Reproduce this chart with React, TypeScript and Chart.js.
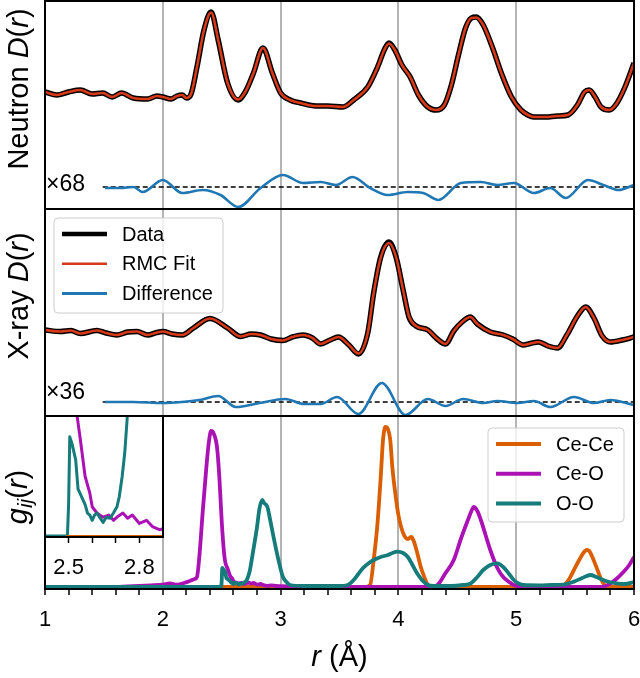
import React, { useEffect, useRef } from 'react';
import { Chart, registerables } from 'chart.js';
Chart.register(...registerables);

const FONT = "'Liberation Sans', Arial, Helvetica, sans-serif";
Chart.defaults.font.family = FONT;

// ---------- Neutron D(r) ----------
const nR = [1.00,1.10,1.20,1.30,1.40,1.49,1.57,1.65,1.75,1.87,1.95,2.00,2.07,2.12,2.165,2.20,2.24,2.29,2.35,2.41,2.47,2.55,2.64,2.70,2.77,2.85,2.93,3.00,3.08,3.17,3.30,3.40,3.53,3.62,3.74,3.82,3.88,3.92,3.97,4.03,4.10,4.17,4.25,4.32,4.39,4.45,4.51,4.57,4.62,4.66,4.72,4.80,4.88,4.96,5.04,5.10,5.15,5.25,5.35,5.44,5.52,5.58,5.62,5.67,5.72,5.79,5.85,5.92,6.00];
const nData = [0.16,0.10,0.16,0.20,0.12,0.14,0.06,0.14,0.04,0.02,0.08,0.06,0.02,0.08,0.10,0.04,0.12,0.66,1.40,1.76,1.20,0.34,0.00,0.16,0.54,1.04,0.54,0.14,0.00,-0.06,-0.12,-0.12,-0.14,0.00,0.26,0.64,1.00,1.14,1.00,0.70,0.46,0.10,-0.14,-0.20,-0.10,0.30,0.90,1.44,1.64,1.66,1.50,1.04,0.50,0.06,-0.20,-0.30,-0.34,-0.34,-0.32,-0.30,-0.10,0.16,0.20,0.06,-0.14,-0.20,-0.08,0.24,0.74];
const nFit = [0.16,0.10,0.16,0.20,0.12,0.14,0.06,0.14,0.04,0.02,0.08,0.06,0.02,0.08,0.10,0.04,0.12,0.66,1.40,1.75,1.20,0.34,0.01,0.16,0.54,1.04,0.54,0.14,0.00,-0.06,-0.12,-0.12,-0.14,0.00,0.26,0.64,1.00,1.13,1.00,0.70,0.46,0.10,-0.14,-0.20,-0.10,0.30,0.90,1.44,1.64,1.65,1.50,1.04,0.50,0.06,-0.20,-0.30,-0.34,-0.34,-0.32,-0.30,-0.10,0.16,0.20,0.06,-0.14,-0.20,-0.08,0.24,0.74];
const nDiffR = [1.51,1.64,1.75,1.83,2.00,2.165,2.34,2.49,2.64,2.83,3.02,3.19,3.34,3.47,3.61,3.76,3.91,4.08,4.21,4.34,4.53,4.70,4.84,4.98,5.15,5.29,5.42,5.61,5.74,5.87,6.00];
const nDiff = [-0.02,-0.02,0.00,-0.10,0.14,-0.12,-0.06,-0.16,-0.40,-0.02,0.24,0.08,0.10,0.04,0.20,-0.02,-0.16,-0.10,-0.12,-0.26,0.08,0.10,0.04,0.08,-0.12,-0.02,-0.22,0.14,0.04,-0.06,0.04];
const nDiffScale = 68;
const nDiffOffset = -1.74;

// ---------- X-ray D(r) ----------
const xR = [1.00,1.13,1.22,1.30,1.44,1.52,1.61,1.70,1.78,1.87,1.95,2.00,2.08,2.165,2.26,2.40,2.55,2.66,2.75,2.83,2.92,3.02,3.10,3.19,3.27,3.34,3.42,3.49,3.58,3.66,3.74,3.79,3.85,3.92,3.98,4.04,4.09,4.15,4.25,4.33,4.40,4.47,4.54,4.61,4.67,4.78,4.89,4.97,5.06,5.12,5.19,5.27,5.35,5.43,5.52,5.59,5.66,5.73,5.80,5.90,6.00];
const xData = [0.00,-0.03,-0.01,-0.07,-0.01,-0.06,-0.10,-0.04,-0.03,-0.10,-0.05,-0.03,-0.08,-0.10,0.04,0.23,0.04,-0.13,-0.08,-0.10,-0.18,-0.21,-0.14,-0.10,-0.16,-0.28,-0.20,-0.14,-0.30,-0.48,-0.06,0.74,1.46,1.76,1.46,0.80,0.26,0.08,0.00,-0.18,-0.28,-0.02,0.16,0.26,0.12,-0.04,-0.10,-0.18,-0.30,-0.27,-0.24,-0.32,-0.36,-0.10,0.28,0.46,0.24,-0.12,-0.24,-0.20,-0.14];
const xFit = [0.00,-0.03,-0.01,-0.07,-0.01,-0.06,-0.10,-0.04,-0.03,-0.10,-0.05,-0.03,-0.08,-0.10,0.04,0.23,0.04,-0.13,-0.08,-0.10,-0.18,-0.21,-0.14,-0.10,-0.16,-0.28,-0.20,-0.14,-0.30,-0.47,-0.06,0.74,1.45,1.74,1.46,0.80,0.27,0.08,0.00,-0.18,-0.28,-0.02,0.16,0.26,0.12,-0.04,-0.10,-0.18,-0.30,-0.27,-0.24,-0.32,-0.36,-0.10,0.28,0.46,0.24,-0.12,-0.24,-0.20,-0.14];
const xDiffR = [1.51,1.75,2.00,2.16,2.31,2.47,2.62,2.82,3.04,3.20,3.34,3.48,3.66,3.86,4.06,4.25,4.40,4.55,4.72,4.84,5.01,5.15,5.29,5.49,5.66,5.80,6.00];
const xDiff = [0.00,0.00,-0.02,0.00,0.04,0.12,-0.10,-0.02,0.06,-0.04,-0.04,0.10,-0.24,0.38,-0.26,0.06,-0.08,0.06,-0.02,0.02,-0.02,0.02,-0.10,0.10,-0.02,0.04,-0.06];
const xDiffScale = 36;
const xDiffOffset = -1.44;

// ---------- partial g_ij(r) ----------
const ceceR = [2.49,3.72,3.76,3.79,3.82,3.85,3.87,3.89,3.91,3.93,3.95,3.98,4.00,4.04,4.08,4.11,4.13,4.16,4.19,4.22,4.25,4.28,5.38,5.41,5.45,5.49,5.53,5.57,5.60,5.62,5.65,5.69,5.72,5.75,5.78,6.00];
const ceceG = [0,0,0.1,1.35,3.0,5.5,7.4,8.0,7.9,7.4,5.9,4.4,3.6,2.7,2.4,2.5,2.3,1.7,1.0,0.5,0.1,0,0,0.1,0.4,0.85,1.3,1.7,1.85,1.8,1.45,0.85,0.4,0.1,0,0];
const ceoR = [1.00,1.60,1.70,1.80,1.90,2.00,2.06,2.12,2.18,2.23,2.27,2.29,2.31,2.34,2.37,2.39,2.41,2.43,2.46,2.48,2.50,2.52,2.53,2.55,2.57,2.59,2.60,2.62,2.646,2.67,2.69,2.71,2.73,2.75,2.77,2.80,2.83,2.855,2.885,2.92,2.96,3.00,3.10,3.20,4.25,4.33,4.40,4.47,4.53,4.59,4.62,4.64,4.67,4.70,4.74,4.78,4.84,4.89,4.94,4.98,5.05,5.72,5.80,5.85,5.91,5.96,6.00];
const ceoG = [0,0,0.03,0.05,0.08,0.12,0.18,0.12,0.2,0.3,0.4,0.5,1.5,3.85,6.0,7.2,7.8,7.7,7.0,5.5,3.3,1.7,1.25,0.92,0.57,0.41,0.28,0.22,0.18,0.2,0.15,0.19,0.22,0.17,0.2,0.12,0.15,0.09,0.06,0.08,0.05,0.04,0.02,0,0,0.1,0.7,1.35,2.4,3.35,3.8,4.0,3.8,3.35,2.6,1.85,0.95,0.5,0.25,0.1,0,0,0.18,0.4,0.75,1.1,1.5];
const ooR = [1.00,2.495,2.50,2.505,2.515,2.53,2.54,2.55,2.56,2.57,2.58,2.59,2.60,2.61,2.62,2.634,2.646,2.66,2.676,2.69,2.705,2.715,2.727,2.738,2.748,2.77,2.80,2.82,2.845,2.86,2.888,2.91,2.94,2.98,3.02,3.05,3.08,3.20,3.40,3.50,3.57,3.62,3.66,3.70,3.75,3.79,3.85,3.91,3.95,3.99,4.04,4.08,4.12,4.16,4.20,4.25,4.30,4.45,4.55,4.61,4.67,4.72,4.78,4.84,4.89,4.94,4.98,5.02,5.06,5.20,5.30,5.40,5.49,5.56,5.63,5.68,5.74,5.79,5.85,5.92,6.00];
const ooG = [0,0,0.3,0.95,0.88,0.73,0.45,0.40,0.35,0.30,0.22,0.20,0.15,0.20,0.22,0.17,0.13,0.18,0.17,0.22,0.28,0.38,0.57,0.80,1.12,1.9,3.0,3.9,4.35,4.2,4.0,3.4,2.5,1.4,0.5,0.25,0.1,0.05,0.05,0.05,0.1,0.35,0.65,0.95,1.2,1.35,1.5,1.6,1.7,1.77,1.7,1.5,1.1,0.67,0.35,0.1,0.05,0.05,0.1,0.17,0.5,0.85,1.1,1.18,1.0,0.65,0.35,0.18,0.1,0.08,0.1,0.12,0.27,0.45,0.6,0.5,0.35,0.25,0.18,0.15,0.25];

// ---------- ticks & legends ----------
const mainTickLabels = [1, 2, 3, 4, 5, 6];
const mainGridLines = [2, 3, 4, 5];
const insetTickLabels = [2.5, 2.8];
const dLegend = ['Data', 'RMC Fit', 'Difference'];
const gLegend = ['Ce-Ce', 'Ce-O', 'O-O'];

const RED = '#d63a1a';
const BLUE = '#1f77b4';
const ORANGE = '#d95f02';
const MAGENTA = '#aa12b4';
const TEAL = '#157b7b';
const GRID = '#b4b4b4';

const near = (v: number, arr: number[]) => arr.some((a) => Math.abs(a - v) < 1e-6);
const toXY = (rs: number[], vs: number[], off = 0) => rs.map((r, i) => ({ x: r, y: vs[i] + off }));

type Seg = { t: string; it?: boolean; size?: number; dy?: number };
function drawRich(ctx: any, segs: Seg[], cx: number, cy: number, size: number, rotate: boolean) {
  ctx.save();
  ctx.translate(cx, cy);
  if (rotate) ctx.rotate(-Math.PI / 2);
  ctx.textBaseline = 'middle';
  ctx.textAlign = 'left';
  ctx.fillStyle = '#000';
  const fontOf = (s: Seg) => `${s.it ? 'italic ' : ''}${s.size ?? size}px ${FONT}`;
  let total = 0;
  const widths = segs.map((s) => {
    ctx.font = fontOf(s);
    const w = ctx.measureText(s.t).width;
    total += w;
    return w;
  });
  let x = -total / 2;
  segs.forEach((s, i) => {
    ctx.font = fontOf(s);
    ctx.fillText(s.t, x, s.dy ?? 0);
    x += widths[i];
  });
  ctx.restore();
}

function roundRect(ctx: any, x: number, y: number, w: number, h: number, r: number) {
  ctx.beginPath();
  ctx.moveTo(x + r, y);
  ctx.lineTo(x + w - r, y);
  ctx.quadraticCurveTo(x + w, y, x + w, y + r);
  ctx.lineTo(x + w, y + h - r);
  ctx.quadraticCurveTo(x + w, y + h, x + w - r, y + h);
  ctx.lineTo(x + r, y + h);
  ctx.quadraticCurveTo(x, y + h, x, y + h - r);
  ctx.lineTo(x, y + r);
  ctx.quadraticCurveTo(x, y, x + r, y);
  ctx.closePath();
}

function drawLegend(ctx: any, x: number, y: number, w: number, h: number, labels: string[], colors: string[], widths: number[]) {
  ctx.save();
  roundRect(ctx, x, y, w, h, 4);
  ctx.fillStyle = 'rgba(255,255,255,0.8)';
  ctx.fill();
  ctx.strokeStyle = '#cccccc';
  ctx.lineWidth = 1;
  ctx.stroke();
  labels.forEach((lab, i) => {
    const cy = y + 16 + i * 29.7;
    ctx.beginPath();
    ctx.moveTo(x + 8, cy);
    ctx.lineTo(x + 53, cy);
    ctx.strokeStyle = colors[i];
    ctx.lineWidth = widths[i];
    ctx.stroke();
    ctx.fillStyle = '#000';
    ctx.font = `20px ${FONT}`;
    ctx.textBaseline = 'middle';
    ctx.textAlign = 'left';
    ctx.fillText(lab, x + 68, cy + 1);
  });
  ctx.restore();
}

const mainPlugin = {
  id: 'mainDecor',
  afterDatasetsDraw(chart: any) {
    const { ctx, chartArea } = chart;
    const { left, right } = chartArea;
    const yN = chart.scales.yN, yX = chart.scales.yX, yG = chart.scales.yG;
    ctx.save();
    ctx.strokeStyle = '#000';
    ctx.lineWidth = 2;
    [yN, yX, yG].forEach((s: any) => ctx.strokeRect(left, s.top, right - left, s.bottom - s.top));
    ctx.restore();

    // scale factor labels
    ctx.save();
    ctx.fillStyle = '#000';
    ctx.font = `23px ${FONT}`;
    ctx.textBaseline = 'alphabetic';
    ctx.textAlign = 'left';
    ctx.fillText('\u00d7' + nDiffScale, left + 1, yN.getPixelForValue(nDiffOffset) + 4);
    ctx.fillText('\u00d7' + xDiffScale, left + 1, yX.getPixelForValue(xDiffOffset) - 3);
    ctx.restore();

    drawLegend(ctx, left + 9, yX.top + 9, 169, 95, dLegend, ['#000', RED, BLUE], [4.5, 2.5, 3]);
    drawLegend(ctx, right - 146, yG.top + 12, 136, 94, gLegend, [ORANGE, MAGENTA, TEAL], [4, 4, 4]);

    // axis titles
    drawRich(ctx, [{ t: 'Neutron ' }, { t: 'D', it: true }, { t: '(' }, { t: 'r', it: true }, { t: ')' }], 20, 89, 29, true);
    drawRich(ctx, [{ t: 'X-ray ' }, { t: 'D', it: true }, { t: '(' }, { t: 'r', it: true }, { t: ')' }], 20, 296, 29, true);
    drawRich(ctx, [{ t: 'g', it: true }, { t: 'ij', it: true, size: 21, dy: 7 }, { t: '(' }, { t: 'r', it: true }, { t: ')' }], 19, 497, 29, true);
    drawRich(ctx, [{ t: 'r', it: true }, { t: ' (\u00c5)' }], (left + right) / 2, 658, 29, false);
  },
};

const insetPlugin = {
  id: 'insetDecor',
  beforeDraw(chart: any) {
    const { ctx, chartArea: a } = chart;
    ctx.save();
    ctx.fillStyle = '#fff';
    ctx.fillRect(a.left, a.top, a.right - a.left, a.bottom - a.top);
    ctx.restore();
  },
  afterDatasetsDraw(chart: any) {
    const { ctx, chartArea: a } = chart;
    ctx.save();
    ctx.strokeStyle = '#000';
    ctx.lineWidth = 2;
    ctx.strokeRect(a.left, a.top, a.right - a.left, a.bottom - a.top);
    ctx.restore();
  },
};

const line = (extra: any) => ({
  pointRadius: 0,
  fill: false,
  cubicInterpolationMode: 'monotone',
  borderJoinStyle: 'round',
  ...extra,
});

export default function App() {
  const mainRef = useRef<HTMLCanvasElement>(null);
  const insetRef = useRef<HTMLCanvasElement>(null);

  useEffect(() => {
    document.body.style.margin = '0';
    const yBase = (extra: any) => ({
      type: 'linear',
      position: 'left',
      stack: 'panels',
      ticks: { display: false },
      grid: { display: false },
      border: { display: false },
      afterFit: (s: any) => {
        s.width = 45;
        s.paddingTop = 0;
        s.paddingBottom = 0;
      },
      ...extra,
    });

    const main = new Chart(mainRef.current as HTMLCanvasElement, {
      type: 'line',
      data: {
        datasets: [
          line({ label: 'Neutron RMC Fit', data: toXY(nR, nFit), yAxisID: 'yN', borderColor: RED, borderWidth: 2.6, order: 1 }),
          line({ label: 'Neutron Data', data: toXY(nR, nData), yAxisID: 'yN', borderColor: '#000', borderWidth: 5.5, order: 2 }),
          line({ label: 'Neutron Difference', data: toXY(nDiffR, nDiff, nDiffOffset), yAxisID: 'yN', borderColor: BLUE, borderWidth: 2.6, order: 1 }),
          line({ label: 'Neutron zero', data: [{ x: nDiffR[0] - 0.02, y: nDiffOffset }, { x: 6, y: nDiffOffset }], yAxisID: 'yN', borderColor: '#000', borderWidth: 1.3, borderDash: [5, 3], order: 5 }),
          line({ label: 'X-ray RMC Fit', data: toXY(xR, xFit), yAxisID: 'yX', borderColor: RED, borderWidth: 2.6, order: 1 }),
          line({ label: 'X-ray Data', data: toXY(xR, xData), yAxisID: 'yX', borderColor: '#000', borderWidth: 5.5, order: 2 }),
          line({ label: 'X-ray Difference', data: toXY(xDiffR, xDiff, xDiffOffset), yAxisID: 'yX', borderColor: BLUE, borderWidth: 2.6, order: 1 }),
          line({ label: 'X-ray zero', data: [{ x: xDiffR[0] - 0.02, y: xDiffOffset }, { x: 6, y: xDiffOffset }], yAxisID: 'yX', borderColor: '#000', borderWidth: 1.3, borderDash: [5, 3], order: 5 }),
          line({ label: 'O-O', data: toXY(ooR, ooG), yAxisID: 'yG', borderColor: TEAL, borderWidth: 3.8, order: 1 }),
          line({ label: 'Ce-O', data: toXY(ceoR, ceoG), yAxisID: 'yG', borderColor: MAGENTA, borderWidth: 3.8, order: 2 }),
          line({ label: 'Ce-Ce', data: toXY(ceceR, ceceG), yAxisID: 'yG', borderColor: ORANGE, borderWidth: 3.8, order: 3 }),
        ],
      },
      options: {
        responsive: false,
        animation: false,
        devicePixelRatio: 1,
        events: [],
        layout: { padding: { left: 0, top: 1, right: 6, bottom: 0 } },
        plugins: { legend: { display: false }, tooltip: { enabled: false } },
        scales: {
          x: {
            type: 'linear',
            position: 'bottom',
            min: 1,
            max: 6,
            ticks: {
              stepSize: 0.2,
              autoSkip: false,
              maxRotation: 0,
              color: '#000',
              padding: 12,
              font: { family: FONT, size: 22 },
              callback: (v: any) => (near(Number(v), mainTickLabels) ? String(Math.round(Number(v))) : ''),
            },
            grid: {
              color: (c: any) => (c.tick && near(c.tick.value, mainGridLines) ? GRID : 'rgba(0,0,0,0)'),
              lineWidth: 2,
              tickColor: '#000',
              tickLength: 6,
              tickWidth: 1.5,
            },
            border: { color: '#000', width: 2 },
            afterFit: (s: any) => {
              s.height = 89;
              s.paddingLeft = 0;
              s.paddingRight = 0;
            },
          },
          // stacked panels are laid out bottom-up in declaration order
          yG: yBase({ stackWeight: 173, min: -0.1, max: 8.55 }),
          yX: yBase({ stackWeight: 207, min: -1.72, max: 2.42 }),
          yN: yBase({ stackWeight: 208, min: -2.18, max: 1.98 }),
        } as any,
      },
      plugins: [mainPlugin],
    } as any);

    const inset = new Chart(insetRef.current as HTMLCanvasElement, {
      type: 'line',
      data: {
        datasets: [
          line({ label: 'O-O', data: toXY(ooR, ooG), borderColor: TEAL, borderWidth: 3, cubicInterpolationMode: 'default', tension: 0, clip: 0, order: 2 }),
          line({ label: 'Ce-O', data: toXY(ceoR, ceoG), borderColor: MAGENTA, borderWidth: 3, cubicInterpolationMode: 'default', tension: 0, clip: 0, order: 3 }),
          line({ label: 'Ce-Ce', data: toXY(ceceR, ceceG), borderColor: ORANGE, borderWidth: 2, cubicInterpolationMode: 'default', tension: 0, clip: 0, order: 1 }),
        ],
      },
      options: {
        responsive: false,
        animation: false,
        devicePixelRatio: 1,
        events: [],
        layout: { padding: { left: 15, top: 6, right: 17, bottom: 0 } },
        plugins: { legend: { display: false }, tooltip: { enabled: false } },
        scales: {
          x: {
            type: 'linear',
            min: 2.4,
            max: 2.9,
            ticks: {
              stepSize: 0.1,
              autoSkip: false,
              maxRotation: 0,
              color: '#000',
              padding: 12,
              font: { family: FONT, size: 22 },
              callback: (v: any) => (near(Number(v), insetTickLabels) ? Number(v).toFixed(1) : ''),
            },
            grid: {
              drawOnChartArea: false,
              tickLength: 6,
              tickWidth: 1.5,
              tickColor: (c: any) => (c.tick && (near(c.tick.value, [2.4]) || near(c.tick.value, [2.9])) ? 'rgba(0,0,0,0)' : '#000'),
            },
            border: { color: '#000', width: 2 },
            afterFit: (s: any) => {
              s.height = 53;
              s.paddingLeft = 0;
              s.paddingRight = 0;
            },
          },
          y: { display: false, min: -0.01, max: 1.15 },
        } as any,
      },
      plugins: [insetPlugin],
    } as any);

    return () => {
      main.destroy();
      inset.destroy();
    };
  }, []);

  return (
    <div style={{ position: 'relative', width: 640, height: 678, background: '#fff' }}>
      <canvas ref={mainRef} width={640} height={678} style={{ position: 'absolute', left: 0, top: 0 }} />
      <canvas ref={insetRef} width={150} height={180} style={{ position: 'absolute', left: 30, top: 410 }} />
    </div>
  );
}
